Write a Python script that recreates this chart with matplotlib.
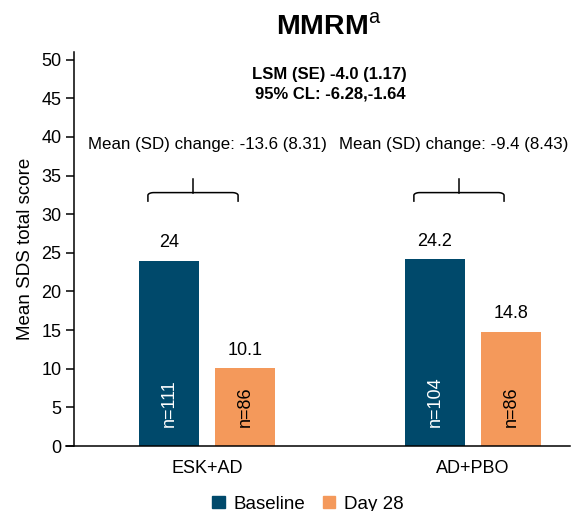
import matplotlib

matplotlib.use("Agg")
import matplotlib.pyplot as plt
import numpy as np
from matplotlib.patches import Patch

# group summary values
groups = ["ESK+AD", "AD+PBO"]
baseline = [24.0, 24.2]
day28 = [10.1, 14.8]
n_baseline = [111, 104]
n_day28 = [86, 86]
change_text = ["Mean (SD) change: -13.6 (8.31)", "Mean (SD) change: -9.4 (8.43)"]
lsm_text = "LSM (SE) -4.0 (1.17)\n95% CL: -6.28,-1.64"

BLUE = "#00496b"
ORANGE = "#f4995b"

plt.rcParams.update(
    {
        "font.family": ["Liberation Sans", "DejaVu Sans"],
        "font.size": 13,
        "mathtext.fontset": "custom",
        "mathtext.rm": "Liberation Sans",
        "axes.linewidth": 1.1,
    }
)

fig = plt.figure(figsize=(5.73, 5.11), dpi=100)
ax = fig.add_axes([66 / 573, 65 / 511, 504 / 573, 394 / 511])

x = np.arange(len(groups))
off = 0.143
width = 0.226
ax.bar(x - off, baseline, width, color=BLUE)
ax.bar(x + off, day28, width, color=ORANGE)

for xi, b, d, nb, nd in zip(x, baseline, day28, n_baseline, n_day28):
    ax.text(xi - off, b + 1.2, f"{b:g}", ha="center", va="bottom", fontsize=13)
    ax.text(xi + off, d + 1.2, f"{d:g}", ha="center", va="bottom", fontsize=13)
    ax.text(xi - off, 2.4, f"n={nb}", rotation=90, ha="center", va="bottom",
            color="white", fontsize=13)
    ax.text(xi + off, 2.4, f"n={nd}", rotation=90, ha="center", va="bottom",
            color="black", fontsize=13)


def bracket(ax, x0, x1, y_top, y_end, y_stem, r=0.022, ry=0.35):
    # horizontal bar with rounded corners, plus centre stem
    t = np.linspace(0, np.pi / 2, 12)
    left_x = x0 + r - r * np.cos(t)
    left_y = y_top - ry + ry * np.sin(t)
    right_x = x1 - r + r * np.cos(t[::-1])
    right_y = y_top - ry + ry * np.sin(t[::-1])
    xs = np.concatenate([[x0], left_x, right_x, [x1]])
    ys = np.concatenate([[y_end], left_y, right_y, [y_end]])
    ax.plot(xs, ys, color="black", lw=1.1, solid_capstyle="butt")
    xm = (x0 + x1) / 2
    ax.plot([xm, xm], [y_top, y_stem], color="black", lw=1.1)


text_shift = [0.0, -0.072]
for xi, txt, dx in zip(x, change_text, text_shift):
    bracket(ax, xi - 0.222, xi + 0.117, 32.8, 31.6, 34.6)
    ax.text(xi + dx, 39.0, txt, ha="center", va="center", fontsize=12.2)

ax.text(0.462, 46.8, lsm_text, ha="center", va="center", fontsize=12,
        fontweight="bold", linespacing=1.4)

ax.set_xlim(-0.53, 1.365)
ax.set_ylim(0, 51)
ax.spines["left"].set_position(("data", -0.5))
ax.spines["top"].set_visible(False)
ax.spines["right"].set_visible(False)
ax.set_yticks(np.arange(0, 51, 5))
ax.set_xticks(x, groups)
ax.tick_params(axis="x", length=0, pad=10, labelsize=13)
ax.tick_params(axis="y", length=6, width=1.1, labelsize=13, pad=3)
ax.set_ylabel("Mean SDS total score", fontsize=13.5, labelpad=5)

fig.text(329 / 573, 1 - 27 / 511, r"MMRM$^{\mathrm{a}}$", ha="center", va="center",
         fontsize=20.5, fontweight="bold")

handles = [Patch(color=BLUE, label="Baseline"), Patch(color=ORANGE, label="Day 28")]
fig.legend(handles=handles, loc="lower center", bbox_to_anchor=(308 / 573, -0.036),
           ncol=2, frameon=False, handlelength=0.65, handleheight=0.65,
           handletextpad=0.5, columnspacing=0.9, fontsize=13.5)

fig.savefig("out.png", dpi=100, facecolor="white")
